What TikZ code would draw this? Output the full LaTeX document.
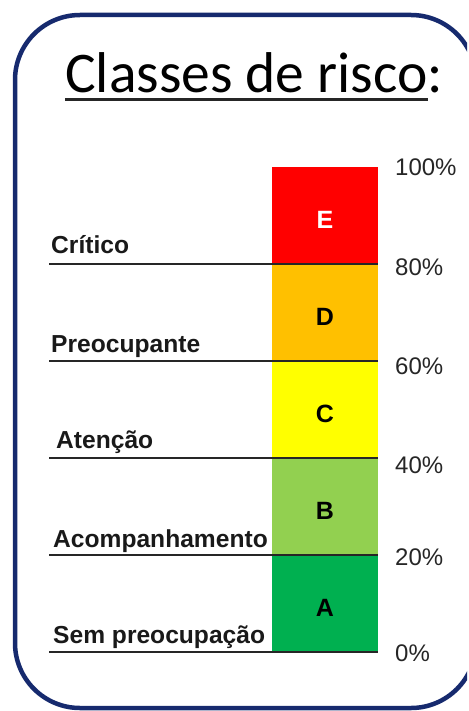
\documentclass[tikz,border=0pt]{standalone}
\usepackage{fontspec}
\setmainfont{Liberation Sans}
\newfontfamily\titlefont{Carlito}
\usetikzlibrary{positioning}

\definecolor{frameblue}{RGB}{22,42,110}
\definecolor{clsA}{RGB}{0,176,80}
\definecolor{clsB}{RGB}{146,208,80}
\definecolor{clsC}{RGB}{255,255,0}
\definecolor{clsD}{RGB}{255,192,0}
\definecolor{clsE}{RGB}{255,0,0}

\tikzset{
  seg/.style={minimum width=106pt, minimum height=97pt, inner sep=0pt, outer sep=0pt},
  letter/.style={font=\bfseries\fontsize{25}{28}\selectfont, inner sep=0pt},
  sepline/.style={line width=2pt, black!85},
  classlbl/.style={anchor=base west, inner sep=0pt, font=\bfseries\fontsize{24.6}{28}\selectfont, text=black!90},
  pct/.style={anchor=west, inner sep=0pt, font=\fontsize{24}{28}\selectfont, text=black!85}
}

\begin{document}
\begin{tikzpicture}[x=1pt, y=-1pt]
\useasboundingbox (0,0) rectangle (468,711);

% Draw the frame (its right side runs off the page)
\begin{scope}
\clip (0,0) rectangle (467,711);
\draw[frameblue, line width=4.5pt, rounded corners=65pt] (15,15) rectangle (476,708);
\end{scope}

% Title
\node[anchor=base west, inner sep=0pt, font=\titlefont\fontsize{57.5}{60}\selectfont] (title) at (65,93) {Classes de risco:};
\draw[line width=3pt, black!85] ([yshift=-7pt]title.base west) -- ++(363,0);

% Draw the class bar
\pgfmathsetmacro{\barX}{325}
\node[seg, fill=clsA] (segA) at (\barX,603.5) {};
\node[seg, fill=clsB, above=0pt of segA] (segB) {};
\node[seg, fill=clsC, above=0pt of segB] (segC) {};
\node[seg, fill=clsD, above=0pt of segC] (segD) {};
\node[seg, fill=clsE, above=0pt of segD] (segE) {};

\node[letter] (lA) at ([yshift=-4pt]segA.center) {A};
\node[letter] (lB) at ([yshift=-4pt]segB.center) {B};
\node[letter] (lC) at ([yshift=-4pt]segC.center) {C};
\node[letter] (lD) at ([yshift=-4pt]segD.center) {D};
\node[letter, text=white] (lE) at ([yshift=-4pt]segE.center) {E};

% Draw the separating lines
\coordinate (p0) at (49,652);
\coordinate (p20) at (49,555);
\coordinate (p40) at (49,458);
\coordinate (p60) at (49,361);
\coordinate (p80) at (49,264);
\draw[sepline] (p0) -- (segA.south east);
\draw[sepline] (p20) -- (segA.north east);
\draw[sepline] (p40) -- (segB.north east);
\draw[sepline] (p60) -- (segC.north east);
\draw[sepline] (p80) -- (segD.north east);

% Class names
\node[classlbl] (tA) at ([xshift=4pt, yshift=9pt]p0) {Sem preocupação};
\node[classlbl] (tB) at ([xshift=4pt, yshift=8pt]p20) {Acompanhamento};
\node[classlbl] (tC) at ([xshift=7pt, yshift=10pt]p40) {Atenção};
\node[classlbl] (tD) at ([xshift=2pt, yshift=9pt]p60) {Preocupante};
\node[classlbl] (tE) at ([xshift=2pt, yshift=11pt]p80) {Crítico};

% Percent marks
\node[pct] (q0) at ([xshift=17pt, yshift=-1pt]segA.south east) {0\%};
\node[pct] (q20) at ([xshift=17pt, yshift=-2pt]segA.north east) {20\%};
\node[pct] (q40) at ([xshift=17pt, yshift=-7pt]segB.north east) {40\%};
\node[pct] (q60) at ([xshift=17pt, yshift=-5pt]segC.north east) {60\%};
\node[pct] (q80) at ([xshift=17pt, yshift=-3pt]segD.north east) {80\%};
\node[pct] (q100) at ([xshift=17pt, yshift=0pt]segE.north east) {100\%};
\end{tikzpicture}
\end{document}
